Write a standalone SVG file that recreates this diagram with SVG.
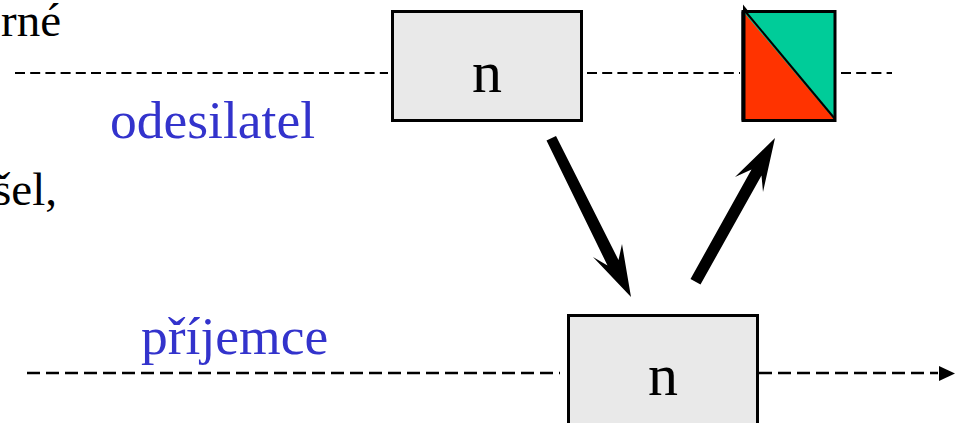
<svg xmlns="http://www.w3.org/2000/svg" width="959" height="423" viewBox="0 0 959 423">
<style>
text{font-family:"Liberation Serif","Times New Roman",serif}
.box{fill:#e9e9e9;stroke:#000;stroke-width:3}
.n{font-size:60px;fill:#000;text-anchor:middle}
.lbl{font-size:53.500px;fill:#3333cc}
.side{font-size:47px;fill:#000}
.dash1{fill:none;stroke:#000;stroke-width:1.800;stroke-dasharray:10 5.200}
.dash2{fill:none;stroke:#000;stroke-width:2.600;stroke-dasharray:13 6}
.thick{fill:#000;stroke:none}
</style>
<rect width="959" height="423" fill="#fff"/>
<g id="connectors">
<path class="dash1" d="M15 73H388"/>
<path class="dash1" d="M587 73H740"/>
<path class="dash1" d="M841 73H892"/>
<path class="dash2" d="M27 373H560"/>
<path class="dash2" d="M759 373H938"/>
<path class="thick" d="M939 366L955 373.500L939 381Z"/>
<path class="thick" d="M546.500 140.500L556 136L618.500 260L622 244L631 297L593 257L607.500 265.500Z"/>
<path class="thick" d="M700.500 284.500L690.500 279L751.500 169.500L735 177L775 138L763 192L761.500 175.500Z"/>
</g>
<g id="node-sender">
<rect class="box" x="392.500" y="11.500" width="189" height="109"/>
<text class="n" x="487" y="92">n</text>
</g>
<g id="node-split">
<rect x="743" y="11.500" width="92" height="109" fill="#00cc99"/>
<path d="M743 11.500L835 120.500H743Z" fill="#ff3300"/>
<path d="M743 11.500H835V120.500H743Z" fill="none" stroke="#000" stroke-width="3"/>
<path d="M745 11L835 119" fill="none" stroke="#000" stroke-width="2"/>
<path class="thick" d="M743 4.500L749 12H743Z"/>
<path d="M743.500 11.500V120.500" fill="none" stroke="#000" stroke-width="4"/>
</g>
<g id="node-receiver">
<rect class="box" x="568.500" y="315.500" width="189" height="120"/>
<text class="n" x="663" y="395">n</text>
</g>
<g id="labels">
<text class="lbl" x="110" y="138">odesilatel</text>
<text class="lbl" x="141" y="354">příjemce</text>
<text class="side" x="1" y="36">rné</text>
<text class="side" x="-7" y="205">šel,</text>
</g>
</svg>
